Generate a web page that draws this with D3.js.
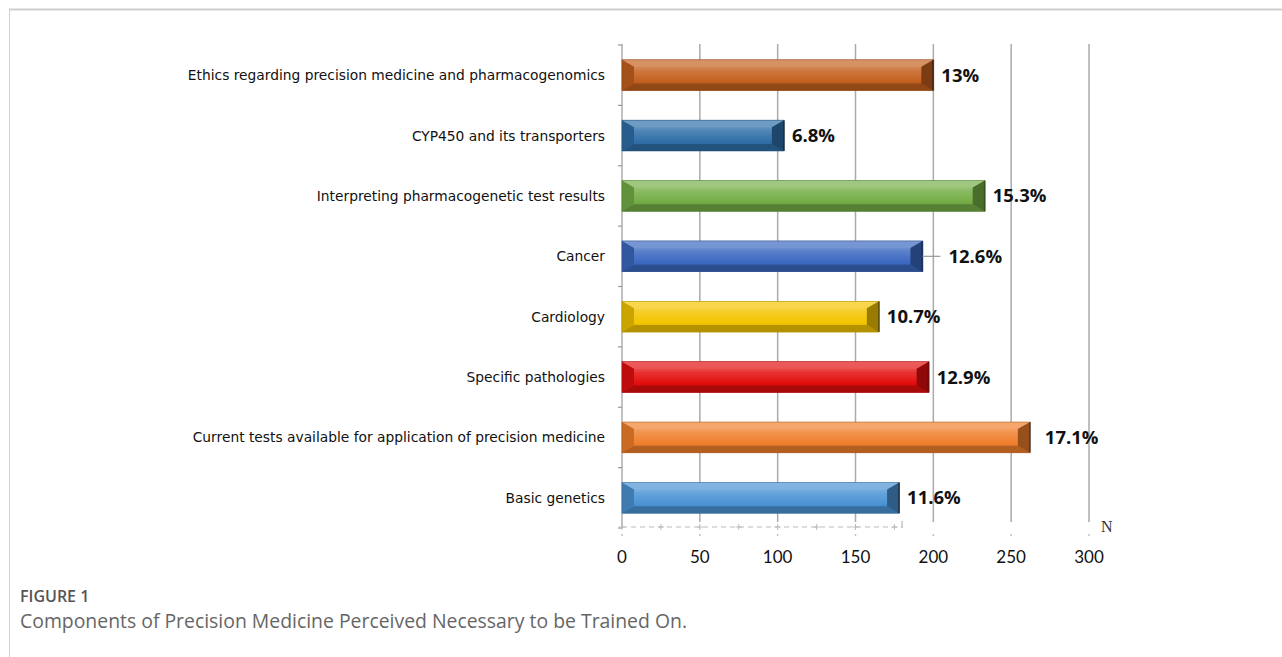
<!DOCTYPE html>
<html>
<head>
<meta charset="utf-8">
<script src="https://cdn.jsdelivr.net/npm/d3@7"></script>
<style>
  body { margin: 0; background: #fff; }
  svg { display: block; }
</style>
</head>
<body>
<div id="chart"></div>
<script>
// categories, top to bottom
var categories = [
  "Ethics regarding precision medicine and pharmacogenomics",
  "CYP450 and its transporters",
  "Interpreting pharmacogenetic test results",
  "Cancer",
  "Cardiology",
  "Specific pathologies",
  "Current tests available for application of precision medicine",
  "Basic genetics"
];
var counts = [200, 104, 233, 193, 165, 197, 262, 178];
var percents = ["13%", "6.8%", "15.3%", "12.6%", "10.7%", "12.9%", "17.1%", "11.6%"];
var barColors = ["#c4601f", "#2f6fa8", "#74ad45", "#3b68c0", "#f3c400", "#e30e0e", "#f07f2c", "#4b93d4"];
var xTicks = [0, 50, 100, 150, 200, 250, 300];

var W = 1282, H = 657;
var svg = d3.select("#chart").append("svg")
  .attr("width", W).attr("height", H);

// figure frame
svg.append("line").attr("x1", 9).attr("x2", W).attr("y1", 9.5).attr("y2", 9.5)
  .style("stroke", "#cfcfcf").style("stroke-width", 2);
svg.append("line").attr("x1", 9.5).attr("x2", 9.5).attr("y1", 9).attr("y2", H)
  .style("stroke", "#cfcfcf").style("stroke-width", 1);

var x = d3.scaleLinear().domain([0, 300]).range([622, 1089]);
var y = d3.scaleBand().domain(categories).range([45, 528])
  .paddingInner(0.49).paddingOuter(0.245);

// gridlines
svg.append("g").selectAll("line")
  .data(xTicks.filter(d => d > 0))
  .enter().append("line")
  .attr("x1", d => x(d)).attr("x2", d => x(d))
  .attr("y1", 44).attr("y2", 522)
  .style("stroke", "#aaa").style("stroke-width", 1.5);

// little dots under the grid
svg.append("g").selectAll("circle")
  .data(xTicks)
  .enter().append("circle")
  .attr("cx", d => x(d)).attr("cy", 535).attr("r", 0.9)
  .style("fill", "#bbb");

// left axis with boundary ticks
svg.append("line").attr("x1", x(0)).attr("x2", x(0)).attr("y1", 44).attr("y2", 528)
  .style("stroke", "#999").style("stroke-width", 1.2);
var bounds = d3.range(categories.length + 1).map(i => 45 + i * y.step());
svg.append("g").selectAll("line")
  .data(bounds).enter().append("line")
  .attr("x1", x(0) - 4).attr("x2", x(0))
  .attr("y1", d => d).attr("y2", d => d)
  .style("stroke", "#999").style("stroke-width", 1.2);

// dashed baseline artifact
var dashEnd = counts[categories.length - 1];
svg.append("line")
  .attr("x1", x(0)).attr("x2", x(dashEnd) + 3)
  .attr("y1", 527).attr("y2", 527)
  .style("stroke", "#bbb").style("stroke-width", 1)
  .style("stroke-dasharray", "5,4");
svg.append("g").selectAll("path")
  .data(d3.range(0, dashEnd, 25)).enter().append("path")
  .attr("d", d => "M" + (x(d) - 3) + ",527h6M" + x(d) + ",524v6")
  .style("stroke", "#bbb").style("stroke-width", 1);
svg.append("line")
  .attr("x1", x(dashEnd) + 3).attr("x2", x(dashEnd) + 3)
  .attr("y1", 521).attr("y2", 528)
  .style("stroke", "#aaa").style("stroke-width", 1);

svg.append("text").attr("x", 1101).attr("y", 532)
  .style("font-family", "'Liberation Serif', serif").style("font-size", "16px")
  .style("fill", "#333").text("N");

// tick labels
svg.append("g").selectAll("text")
  .data(xTicks).enter().append("text")
  .attr("x", d => x(d)).attr("y", 563)
  .attr("text-anchor", "middle")
  .style("font-family", "Lato, sans-serif").style("font-size", "17px")
  .style("fill", "#111")
  .text(d => d);

// category labels
svg.append("g").selectAll("text")
  .data(categories).enter().append("text")
  .attr("x", 605).attr("y", d => y(d) + y.bandwidth() / 2 + 5)
  .attr("text-anchor", "end")
  .style("font-family", "'DejaVu Sans', sans-serif")
  .style("font-size", "13.8px")
  .style("fill", "#111")
  .text(d => d);

// gradients for 3d bars
var defs = svg.append("defs");
barColors.forEach(function(c, i) {
  var g = defs.append("linearGradient").attr("id", "g" + i)
    .attr("x1", 0).attr("y1", 0).attr("x2", 0).attr("y2", 1);
  var base = d3.color(c);
  g.append("stop").attr("offset", "0%").attr("stop-color", d3.interpolateRgb(c, "#fff")(0.45));
  g.append("stop").attr("offset", "35%").attr("stop-color", d3.interpolateRgb(c, "#fff")(0.15));
  g.append("stop").attr("offset", "70%").attr("stop-color", base.formatHex());
  g.append("stop").attr("offset", "100%").attr("stop-color", base.darker(0.6).formatHex());
});

var bevX = 12, bevY = 7;
var bars = svg.append("g").selectAll("g")
  .data(categories).enter().append("g");

bars.each(function(d, i) {
  var g = d3.select(this);
  var c = barColors[i];
  var x0 = x(0), x1 = x(counts[i]);
  var y0 = y(d), y1 = y(d) + y.bandwidth();
  var pts = function(arr) { return arr.map(p => p.join(",")).join(" "); };
  // front face
  g.append("rect").attr("x", x0).attr("y", y0)
    .attr("width", x1 - x0).attr("height", y1 - y0)
    .style("fill", "url(#g" + i + ")");
  // top face
  g.append("polygon").attr("points", pts([[x0, y0], [x1, y0], [x1 - bevX, y0 + bevY], [x0 + bevX, y0 + bevY]]))
    .style("fill", d3.interpolateRgb(c, "#fff")(0.3)).style("opacity", 0.9);
  // bottom face
  g.append("polygon").attr("points", pts([[x0, y1], [x1, y1], [x1 - bevX, y1 - bevY], [x0 + bevX, y1 - bevY]]))
    .style("fill", d3.color(c).darker(0.9).formatHex()).style("opacity", 0.9);
  // left face
  g.append("polygon").attr("points", pts([[x0, y0], [x0 + bevX, y0 + bevY], [x0 + bevX, y1 - bevY], [x0, y1]]))
    .style("fill", d3.color(c).darker(0.5).formatHex());
  // right face
  g.append("polygon").attr("points", pts([[x1, y0], [x1 - bevX, y0 + bevY], [x1 - bevX, y1 - bevY], [x1, y1]]))
    .style("fill", d3.color(c).darker(1.3).formatHex());
  g.append("line").attr("x1", x1).attr("x2", x1).attr("y1", y0).attr("y2", y1)
    .style("stroke", "#111").style("stroke-width", 1.5);
  g.append("rect").attr("x", x0).attr("y", y0)
    .attr("width", x1 - x0).attr("height", y1 - y0)
    .style("fill", "none").style("stroke", d3.color(c).darker(0.8).formatHex()).style("stroke-width", 0.6);
});

// value labels
var labelGap = {"Cancer": 26, "Current tests available for application of precision medicine": 15};
svg.append("g").selectAll("line")
  .data(categories.filter(d => d === "Cancer")).enter().append("line")
  .attr("x1", d => x(counts[categories.indexOf(d)]))
  .attr("x2", d => x(counts[categories.indexOf(d)]) + 18)
  .attr("y1", d => y(d) + y.bandwidth() / 2).attr("y2", d => y(d) + y.bandwidth() / 2)
  .style("stroke", "#999").style("stroke-width", 1.2);

svg.append("g").selectAll("text")
  .data(categories).enter().append("text")
  .attr("x", (d, i) => x(counts[i]) + (labelGap[d] || 8))
  .attr("y", d => y(d) + y.bandwidth() / 2 + 6.5)
  .style("font-family", "'Open Sans', sans-serif").style("font-weight", "bold")
  .style("font-size", "18.5px").style("fill", "#111")
  .text((d, i) => percents[i]);

// caption
svg.append("text").attr("x", 20).attr("y", 602)
  .style("font-family", "'Open Sans', sans-serif").style("font-weight", 600)
  .style("font-size", "16px").style("fill", "#555")
  .text("FIGURE 1");
svg.append("text").attr("x", 20).attr("y", 628)
  .style("font-family", "'Open Sans', sans-serif").style("font-weight", 400)
  .style("font-size", "19.4px").style("fill", "#666")
  .text("Components of Precision Medicine Perceived Necessary to be Trained On.");
</script>
</body>
</html>
